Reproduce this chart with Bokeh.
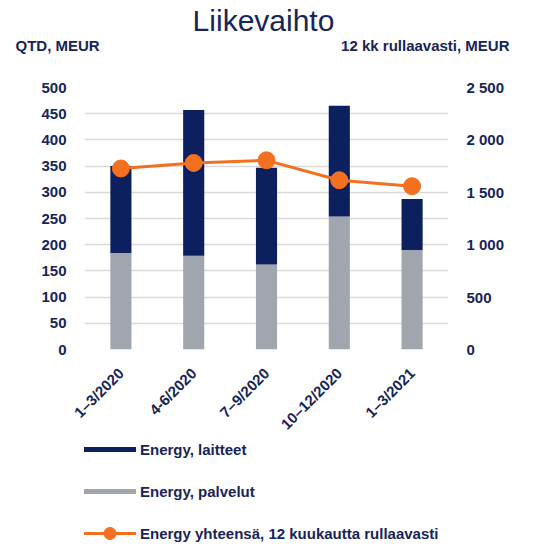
from bokeh.plotting import figure
from bokeh.models import (ColumnDataSource, Range1d, LinearAxis, FixedTicker, Legend,
                          LegendItem, Label, FactorRange)
from bokeh.layouts import column
from bokeh.embed import file_html
from bokeh.resources import INLINE

quarters = ["1–3/2020", "4-6/2020", "7–9/2020", "10–12/2020", "1–3/2021"]
palvelut = [184, 179, 162, 254, 190]
laitteet = [166, 278, 185, 211, 97]
rolling12 = [1727, 1780, 1805, 1615, 1558]

left_ticks = [0, 50, 100, 150, 200, 250, 300, 350, 400, 450, 500]
right_ticks = [0, 500, 1000, 1500, 2000, 2500]
right_tick_labels = ["0", "500", "1 000", "1 500", "2 000", "2 500"]

title_text = "Liikevaihto"
left_unit = "QTD, MEUR"
right_unit = "12 kk rullaavasti, MEUR"
series_names = ["Energy, laitteet", "Energy, palvelut", "Energy yhteensä, 12 kuukautta rullaavasti"]

NAVY = "#0c1f5e"
TEXT = "#172559"
GRAY = "#a1a5ae"
ORANGE = "#f37021"
FONT = "Liberation Sans"
W = 523
MAIN_H = 441
LEG_H = 101

# ---------------- main chart ----------------
src = ColumnDataSource(dict(q=quarters, palvelut=palvelut, laitteet=laitteet, roll=rolling12))

p = figure(width=W, height=MAIN_H, x_range=FactorRange(*quarters, range_padding=0),
           y_range=Range1d(0, 500), output_backend="svg", toolbar_location=None,
           min_border_left=84, min_border_right=75, min_border_top=87, min_border_bottom=92)
p.outline_line_color = None
p.extra_y_ranges = {"roll": Range1d(0, 2500)}

p.vbar_stack(["palvelut", "laitteet"], x="q", width=0.29, source=src,
             color=[GRAY, NAVY], line_color=None)
p.line(x="q", y="roll", source=src, y_range_name="roll", line_color=ORANGE, line_width=3)
p.scatter(x="q", y="roll", source=src, y_range_name="roll", size=17,
          fill_color=ORANGE, line_color=ORANGE)

for ax in [p.xaxis[0], p.yaxis[0]]:
    ax.axis_line_color = None
    ax.major_tick_line_color = None
    ax.minor_tick_line_color = None
    ax.major_label_text_font = FONT
    ax.major_label_text_font_style = "bold"
    ax.major_label_text_font_size = "15px"
    ax.major_label_text_color = TEXT

p.yaxis[0].ticker = FixedTicker(ticks=left_ticks)
p.yaxis[0].major_label_standoff = 12
p.xaxis[0].major_label_orientation = 0.785398
p.xaxis[0].major_label_standoff = 15

rax = LinearAxis(y_range_name="roll", ticker=FixedTicker(ticks=right_ticks),
                 major_label_overrides={t: l for t, l in zip(right_ticks, right_tick_labels)})
rax.axis_line_color = None
rax.major_tick_line_color = None
rax.minor_tick_line_color = None
rax.major_label_text_font = FONT
rax.major_label_text_font_style = "bold"
rax.major_label_text_font_size = "15px"
rax.major_label_text_color = TEXT
rax.major_label_standoff = 12
p.add_layout(rax, "right")

p.xgrid.grid_line_color = None
p.ygrid.grid_line_color = "#d9d9d9"
p.ygrid.grid_line_width = 1.5
p.ygrid.ticker = FixedTicker(ticks=left_ticks)

# header texts in the top side panels (screen units relative to those panels)
p.add_layout(Label(x=179, y=67, x_units="screen", y_units="screen", text=title_text,
                   text_align="center", text_baseline="alphabetic", text_font=FONT,
                   text_font_size="30px", text_color=TEXT), "above")
p.add_layout(Label(x=-69, y=9, x_units="screen", y_units="screen", text=left_unit,
                   text_align="left", text_baseline="alphabetic", text_font=FONT,
                   text_font_style="bold", text_font_size="15px", text_color=TEXT), "above")
p.add_layout(Label(x=425, y=-8, x_units="screen", y_units="screen", text=right_unit,
                   text_align="right", text_baseline="alphabetic", text_font=FONT,
                   text_font_style="bold", text_font_size="15px", text_color=TEXT), "above")

# ---------------- legend ----------------
leg = figure(width=W, height=LEG_H, x_range=Range1d(0, 1), y_range=Range1d(0, 1),
             x_axis_type=None, y_axis_type=None, output_backend="svg", toolbar_location=None,
             min_border=0)
leg.outline_line_color = None
idx = list(range(len(quarters)))
r1 = leg.line(x=idx, y=laitteet, line_color=NAVY, line_width=5, visible=False)
r2 = leg.line(x=idx, y=palvelut, line_color=GRAY, line_width=5, visible=False)
r3 = leg.line(x=idx, y=rolling12, line_color=ORANGE, line_width=3, visible=False)
r4 = leg.scatter(x=idx, y=rolling12, size=12, fill_color=ORANGE, line_color=ORANGE, visible=False)

legend = Legend(items=[
    LegendItem(label=series_names[0], renderers=[r1]),
    LegendItem(label=series_names[1], renderers=[r2]),
    LegendItem(label=series_names[2], renderers=[r3, r4]),
], location=(-1, -6), orientation="vertical", glyph_width=53, glyph_height=30,
    spacing=12, padding=0, margin=0, label_standoff=4,
    border_line_color=None, background_fill_alpha=0, inactive_fill_alpha=0,
    label_text_font=FONT, label_text_font_style="bold", label_text_font_size="15px",
    label_text_color=TEXT)
leg.add_layout(legend, "center")

layout = column(p, leg, spacing=0)
open("out.html", "w").write(file_html(layout, INLINE))
